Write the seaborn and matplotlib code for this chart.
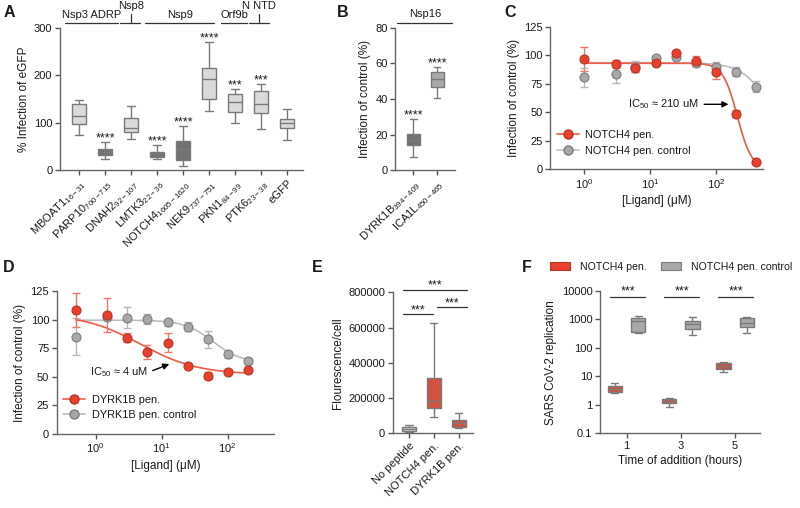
import numpy as np
import pandas as pd
import matplotlib
matplotlib.use("Agg")
import matplotlib.pyplot as plt
import seaborn as sns
from matplotlib.lines import Line2D
from matplotlib.patches import Patch
from matplotlib.ticker import NullLocator, FixedLocator

# ---------------- DATA ----------------
# Panel A (box summaries: min, q1, median, q3, max)
A_names = ["MBOAT1", "PARP10", "DNAH2", "LMTK3", "NOTCH4", "NEK9", "PKN1", "PTK6", "eGFP"]
A_subs = ["16-31", "700-715", "92-107", "22-36", "1605-1620", "737-751", "84-99", "23-38", ""]
A_min = [75, 23, 65, 23, 8, 125, 100, 87, 63]
A_q1 = [97, 31, 80, 28, 21, 151, 122, 120, 88]
A_med = [114, 38, 89, 34, 44, 192, 144, 139, 99]
A_q3 = [139, 44, 111, 38, 61, 215, 161, 167, 108]
A_max = [148, 60, 135, 54, 93, 270, 171, 181, 128]
A_dark = [False, True, False, True, True, False, False, False, False]
A_stars = ["", "****", "", "****", "****", "****", "***", "***", ""]
A_groups = ["Nsp3 ADRP", "Nsp8", "Nsp9", "Orf9b", "N NTD"]

# Panel B
B_names = ["DYRK1B", "ICA1L"]
B_subs = ["394-409", "450-465"]
B_min = [7.2, 40.5]
B_q1 = [14.1, 47.0]
B_med = [16.8, 51.4]
B_q3 = [20.3, 55.2]
B_max = [28.8, 57.8]
B_stars = ["****", "****"]

# Panel C
C_x = [1, 3, 6, 12.5, 25, 50, 100, 200, 400]
C_red = [96.4, 92.3, 89.0, 93.5, 101.7, 95.0, 85.0, 48.7, 6.4]
C_red_err = [10.5, 3.5, 4.0, 1.5, 1.5, 4.5, 6.0, 3.0, 1.0]
C_gray = [80.6, 83.8, 90.0, 97.3, 98.7, 93.5, 89.4, 85.6, 72.4]
C_gray_err = [8.5, 8.0, 5.0, 3.0, 2.0, 3.0, 5.0, 4.0, 5.0]
C_red_fit = dict(top=93.0, bottom=0.0, ic50=210.0, hill=4.0)
C_gray_fit = dict(top=93.5, bottom=0.0, ic50=764.0, hill=2.0)

# Panel D
D_x = [0.5, 1.5, 3, 6, 12.5, 25, 50, 100, 200]
D_red = [108.4, 104.0, 84.2, 71.4, 79.8, 59.7, 51.0, 54.5, 56.0]
D_red_err = [15.0, 14.5, 4.0, 6.0, 8.5, 2.0, 3.0, 2.0, 2.0]
D_gray = [85.0, 102.5, 101.7, 100.5, 97.6, 93.8, 82.8, 69.7, 63.8]
D_gray_err = [16.0, 3.0, 9.0, 4.0, 3.0, 4.0, 7.5, 3.0, 3.0]
D_red_fit = dict(top=105.0, bottom=52.0, ic50=4.8, hill=1.0)
D_gray_fit = dict(top=99.5, bottom=62.0, ic50=60.0, hill=2.0)

# Panel E
E_names = ["No peptide", "NOTCH4 pen.", "DYRK1B pen."]
E_min = [8000, 94000, 28000]
E_q1 = [16000, 145000, 35000]
E_med = [25000, 185000, 57000]
E_q3 = [35000, 315000, 75000]
E_max = [45000, 627000, 117000]

# Panel F
F_times = ["1", "3", "5"]
F_groups = ["NOTCH4 pen.", "NOTCH4 pen. control"]
F_red_min = [2.7, 0.86, 13.9]
F_red_q1 = [2.9, 1.13, 18.2]
F_red_med = [3.6, 1.37, 23.8]
F_red_q3 = [4.6, 1.6, 29.0]
F_red_max = [6.0, 1.8, 31.0]
F_gray_min = [325, 285, 343]
F_gray_q1 = [372, 462, 530]
F_gray_med = [880, 690, 733]
F_gray_q3 = [1100, 905, 1100]
F_gray_max = [1360, 1190, 1190]

# ---------------- STYLE ----------------
sns.set_style("ticks")
plt.rcParams["font.family"] = ["Liberation Sans", "DejaVu Sans"]
plt.rcParams["mathtext.fontset"] = "custom"
plt.rcParams["mathtext.rm"] = "Liberation Sans"
plt.rcParams["mathtext.it"] = "Liberation Sans:italic"
plt.rcParams["mathtext.bf"] = "Liberation Sans:bold"
plt.rcParams["font.size"] = 8
plt.rcParams["text.color"] = "#1a1a1a"
plt.rcParams["axes.labelcolor"] = "#1a1a1a"
plt.rcParams["xtick.color"] = "#555555"
plt.rcParams["ytick.color"] = "#555555"
plt.rcParams["xtick.labelcolor"] = "#1a1a1a"
plt.rcParams["ytick.labelcolor"] = "#1a1a1a"

RED = "#ea3f2a"
RED_EDGE = "#b2382a"
RED_LINE = "#f05a46"
RED_ERR = "#f07a68"
GRAY = "#a8a8a8"
GRAY_EDGE = "#7d7d7d"
GRAY_LINE = "#bdbdbd"
GRAY_ERR = "#b8b8b8"
LIGHT = "#dadada"
DARK = "#727272"
BOXLINE = "#7a7a7a"
SPINE = "#666666"
LEG_FS = 7.6


def style_ax(ax):
    sns.despine(ax=ax)
    for s in ("left", "bottom"):
        ax.spines[s].set_color(SPINE)
        ax.spines[s].set_linewidth(1.0)
    ax.tick_params(length=3.5, width=1.0, labelsize=8, pad=2)


def box_long(names, mins, q1s, meds, q3s, maxs, group=None):
    rows = []
    for i, n in enumerate(names):
        for v in (mins[i], q1s[i], meds[i], q3s[i], maxs[i]):
            rows.append({"cat": n, "val": v, "grp": group})
    return pd.DataFrame(rows)


def four_pl(x, top, bottom, ic50, hill):
    return bottom + (top - bottom) / (1.0 + (x / ic50) ** hill)


fig = plt.figure(figsize=(8.0, 5.08), dpi=100)

# ---------------- PANEL A ----------------
axA = fig.add_axes([0.075, 0.665, 0.304, 0.28])
dfA = box_long(A_names, A_min, A_q1, A_med, A_q3, A_max)
palA = {n: (DARK if d else LIGHT) for n, d in zip(A_names, A_dark)}
sns.boxplot(data=dfA, x="cat", y="val", hue="cat", order=A_names, palette=palA,
            whis=np.inf, width=0.56, linecolor=BOXLINE, linewidth=1.0,
            legend=False, ax=axA)
axA.set_ylim(0, 300)
axA.set_xlim(-0.73, 8.62)
axA.set_yticks([0, 100, 200, 300])
axA.set_xticks(range(len(A_names)))
labA = [(rf"{n}$_{{\mathregular{{{s}}}}}$" if s else n) for n, s in zip(A_names, A_subs)]
axA.set_xticklabels(labA, rotation=45, ha="right", rotation_mode="anchor", fontsize=8.5)
axA.set_xlabel("")
axA.set_ylabel("% Infection of eGFP", fontsize=8.5, labelpad=3)
style_ax(axA)
for i, st in enumerate(A_stars):
    if st:
        axA.text(i, A_max[i] + 1, st, ha="center", va="baseline", fontsize=9)
# group brackets
ly = 311
lk = dict(color="#333333", lw=0.9, clip_on=False)
axA.plot([-0.54, 1.5], [ly, ly], **lk)
axA.text(0.48, ly + 6, A_groups[0], ha="center", va="bottom", fontsize=8)
axA.plot([1.58, 2.35], [ly, ly], **lk)
axA.plot([2.0, 2.0], [ly, ly + 18], **lk)
axA.text(2.0, ly + 24, A_groups[1], ha="center", va="bottom", fontsize=8)
axA.plot([2.54, 5.19], [ly, ly], **lk)
axA.text(3.87, ly + 6, A_groups[2], ha="center", va="bottom", fontsize=8)
axA.plot([5.46, 6.46], [ly, ly], **lk)
axA.text(5.96, ly + 6, A_groups[3], ha="center", va="bottom", fontsize=8)
axA.plot([6.54, 7.31], [ly, ly], **lk)
axA.plot([6.92, 6.92], [ly, ly + 18], **lk)
axA.text(6.92, ly + 24, A_groups[4], ha="center", va="bottom", fontsize=8)

# ---------------- PANEL B ----------------
axB = fig.add_axes([0.494, 0.665, 0.075, 0.28])
dfB = box_long(B_names, B_min, B_q1, B_med, B_q3, B_max)
sns.boxplot(data=dfB, x="cat", y="val", order=B_names, color=DARK,
            whis=np.inf, width=0.55, linecolor=BOXLINE, linewidth=1.0, ax=axB)
for p, fc in zip(axB.patches, [DARK, "#a9a9a9"]):
    p.set_facecolor(fc)
axB.set_ylim(0, 80)
axB.set_xlim(-0.75, 1.75)
axB.set_yticks([0, 20, 40, 60, 80])
axB.set_xticks([0, 1])
labB = [rf"{n}$_{{\mathregular{{{s}}}}}$" for n, s in zip(B_names, B_subs)]
axB.set_xticklabels(labB, rotation=45, ha="right", rotation_mode="anchor", fontsize=8.5)
axB.set_xlabel("")
axB.set_ylabel("Infection of control (%)", fontsize=8.5, labelpad=3)
style_ax(axB)
for i, st in enumerate(B_stars):
    axB.text(i, B_max[i] + 0.5, st, ha="center", va="baseline", fontsize=9)
axB.plot([-0.67, 1.6], [83, 83], color="#333333", lw=0.9, clip_on=False)
axB.text(0.5, 85, "Nsp16", ha="center", va="bottom", fontsize=8)


# ---------------- CURVE PANELS ----------------
def curve_panel(ax, xs, red, red_err, gray, gray_err, red_fit, gray_fit, xlim, names):
    xx = np.logspace(np.log10(xs[0]), np.log10(xs[-1]), 300)
    fit_df = pd.DataFrame({
        "x": np.concatenate([xx, xx]),
        "y": np.concatenate([four_pl(xx, **gray_fit), four_pl(xx, **red_fit)]),
        "s": ["gray"] * len(xx) + ["red"] * len(xx),
    })
    sns.lineplot(data=fit_df, x="x", y="y", hue="s", palette={"gray": GRAY_LINE, "red": RED_LINE},
                 linewidth=1.2, legend=False, ax=ax, zorder=2)
    ax.errorbar(xs, gray, yerr=gray_err, fmt="none", ecolor=GRAY_ERR, elinewidth=1.0,
                capsize=3, capthick=1.0, zorder=3)
    ax.errorbar(xs, red, yerr=red_err, fmt="none", ecolor=RED_ERR, elinewidth=1.0,
                capsize=3, capthick=1.0, zorder=4)
    pts = pd.DataFrame({"x": list(xs) + list(xs), "y": list(gray) + list(red),
                        "s": ["gray"] * len(xs) + ["red"] * len(xs)})
    sns.scatterplot(data=pts[pts.s == "gray"], x="x", y="y", color=GRAY, edgecolor=GRAY_EDGE,
                    s=42, linewidth=0.8, ax=ax, zorder=5, legend=False)
    sns.scatterplot(data=pts[pts.s == "red"], x="x", y="y", color=RED, edgecolor=RED_EDGE,
                    s=42, linewidth=0.8, ax=ax, zorder=6, legend=False)
    ax.set_xscale("log")
    ax.set_xlim(*xlim)
    ax.set_ylim(0, 125)
    ax.set_yticks([0, 25, 50, 75, 100, 125])
    ax.xaxis.set_major_locator(FixedLocator([1, 10, 100]))
    ax.xaxis.set_minor_locator(NullLocator())
    ax.set_xlabel("[Ligand] (\u03bcM)", fontsize=8.5, labelpad=3)
    ax.set_ylabel("Infection of control (%)", fontsize=8.5, labelpad=3)
    style_ax(ax)
    handles = [
        Line2D([0], [0], color=RED_LINE, lw=1.2, marker="o", mfc=RED, mec=RED_EDGE, ms=6.5),
        Line2D([0], [0], color=GRAY_LINE, lw=1.2, marker="o", mfc=GRAY, mec=GRAY_EDGE, ms=6.5),
    ]
    ax.legend(handles, names, loc="lower left", bbox_to_anchor=(0.0, 0.05), frameon=False,
              fontsize=LEG_FS + 0.3, handlelength=2.0, handletextpad=0.6, labelspacing=0.5,
              borderaxespad=0.2)


axC = fig.add_axes([0.6875, 0.6667, 0.2663, 0.2807])
curve_panel(axC, C_x, C_red, C_red_err, C_gray, C_gray_err, C_red_fit, C_gray_fit,
            (0.305, 515), ["NOTCH4 pen.", "NOTCH4 pen. control"])
axC.annotate("", xy=(170, 57), xytext=(60, 57),
             arrowprops=dict(arrowstyle="-|>", color="black", lw=1.0, mutation_scale=9))
axC.text(55, 57, "IC$_{\\mathregular{50}}$ \u2248 210 uM", ha="right", va="center", fontsize=8.0)

axD = fig.add_axes([0.071, 0.1457, 0.2715, 0.2815])
curve_panel(axD, D_x, D_red, D_red_err, D_gray, D_gray_err, D_red_fit, D_gray_fit,
            (0.259, 503), ["DYRK1B pen.", "DYRK1B pen. control"])
axD.annotate("", xy=(14.3, 62), xytext=(6.7, 54.5),
             arrowprops=dict(arrowstyle="-|>", color="black", lw=1.0, mutation_scale=9))
axD.text(6.2, 54, "IC$_{\\mathregular{50}}$ \u2248 4 uM", ha="right", va="center", fontsize=8.0)

# ---------------- PANEL E ----------------
axE = fig.add_axes([0.491, 0.147, 0.1, 0.2776])
dfE = box_long(E_names, E_min, E_q1, E_med, E_q3, E_max)
sns.boxplot(data=dfE, x="cat", y="val", hue="cat", order=E_names,
            palette={E_names[0]: LIGHT, E_names[1]: RED, E_names[2]: RED},
            whis=np.inf, width=0.57, linecolor=BOXLINE, linewidth=1.0, legend=False, ax=axE)
axE.set_ylim(0, 800000)
axE.set_xlim(-0.65, 2.56)
axE.set_yticks([0, 200000, 400000, 600000, 800000])
axE.set_yticklabels(["0", "200000", "400000", "600000", "800000"])
axE.set_xticks([0, 1, 2])
axE.set_xticklabels(E_names, rotation=45, ha="right", rotation_mode="anchor", fontsize=8.5)
axE.set_xlabel("")
axE.set_ylabel("Flourescence/cell", fontsize=8.5, labelpad=3)
style_ax(axE)
sk = dict(color="#333333", lw=0.9, clip_on=False)
axE.plot([-0.25, 2.32], [814000, 814000], **sk)
axE.text(1.03, 820000, "***", ha="center", va="baseline", fontsize=9)
axE.plot([-0.25, 0.96], [675000, 675000], **sk)
axE.text(0.35, 681000, "***", ha="center", va="baseline", fontsize=9)
axE.plot([1.12, 2.32], [715000, 715000], **sk)
axE.text(1.72, 721000, "***", ha="center", va="baseline", fontsize=9)

# ---------------- PANEL F ----------------
axF = fig.add_axes([0.75, 0.147, 0.2, 0.2802])
dfF = pd.concat([
    box_long(F_times, F_red_min, F_red_q1, F_red_med, F_red_q3, F_red_max, F_groups[0]),
    box_long(F_times, F_gray_min, F_gray_q1, F_gray_med, F_gray_q3, F_gray_max, F_groups[1]),
], ignore_index=True)
axF.set_yscale("log")
sns.boxplot(data=dfF, x="cat", y="val", hue="grp", order=F_times, hue_order=F_groups,
            palette={F_groups[0]: RED, F_groups[1]: GRAY}, whis=np.inf, width=0.86, gap=0.39,
            linecolor=BOXLINE, linewidth=1.0, legend=False, ax=axF)
axF.set_ylim(0.1, 10000)
axF.set_xlim(-0.49, 2.46)
axF.set_yticks([0.1, 1, 10, 100, 1000, 10000])
axF.set_yticklabels(["0.1", "1", "10", "100", "1000", "10000"])
axF.yaxis.set_minor_locator(NullLocator())
axF.set_xlabel("Time of addition (hours)", fontsize=8.5, labelpad=3)
axF.set_ylabel("SARS CoV-2 replication", fontsize=8.5, labelpad=3)
style_ax(axF)
for i in range(3):
    axF.plot([i - 0.31, i + 0.34], [6000, 6000], color="#333333", lw=0.9)
    axF.text(i + 0.02, 7600, "***", ha="center", va="baseline", fontsize=9)
fhandles = [Patch(facecolor=RED, edgecolor=RED_EDGE, linewidth=0.8),
            Patch(facecolor=GRAY, edgecolor=GRAY_EDGE, linewidth=0.8)]
fig.legend(fhandles, F_groups, loc="center left", bbox_to_anchor=(0.688, 0.475), ncol=2,
           frameon=False, fontsize=LEG_FS, handlelength=1.9, handleheight=0.75,
           handletextpad=0.9, columnspacing=1.4, borderaxespad=0.0, borderpad=0.0)

# ---------------- PANEL LETTERS ----------------
for lab, x, y in [("A", 0.004, 0.975), ("B", 0.421, 0.975), ("C", 0.631, 0.975),
                  ("D", 0.004, 0.474), ("E", 0.39, 0.474), ("F", 0.652, 0.474)]:
    fig.text(x, y, lab, fontsize=11.5, fontweight="bold", ha="left", va="center")

fig.savefig("out.png", dpi=100)
